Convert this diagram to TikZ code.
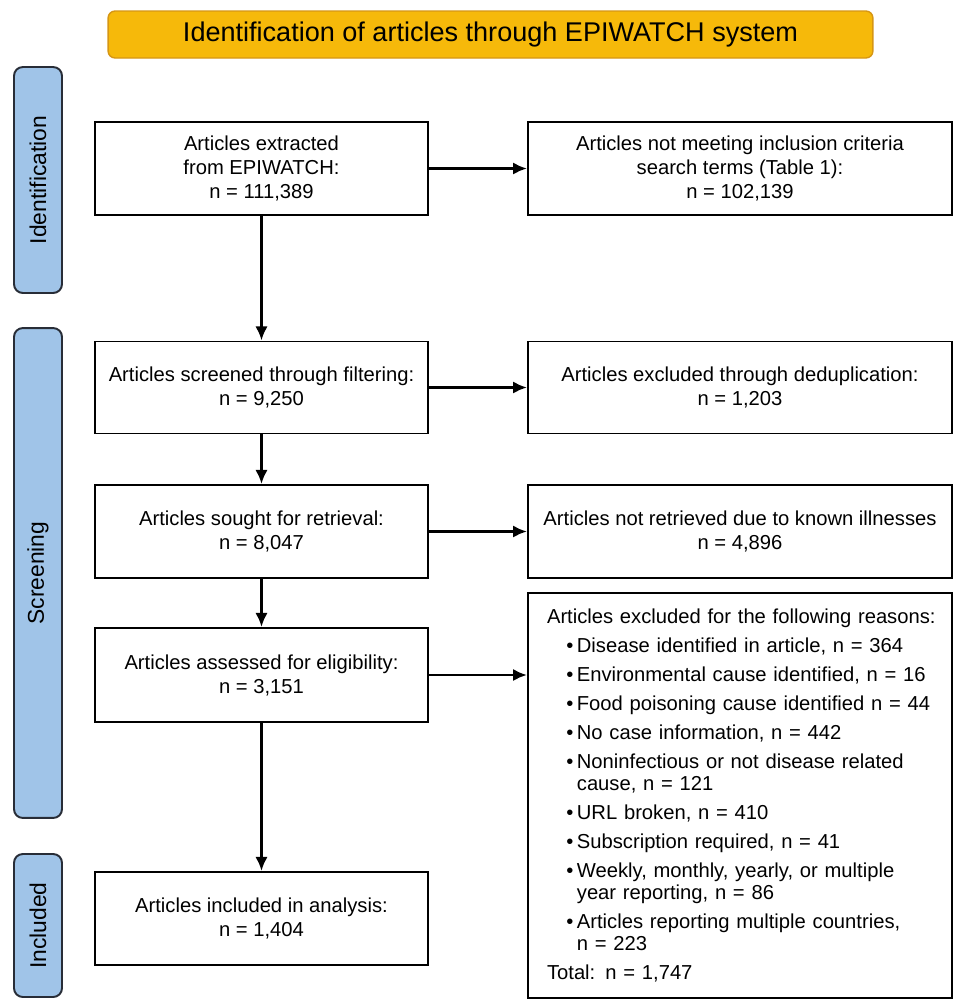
\documentclass[tikz,border=0pt]{standalone}
\usepackage{fontspec}
\setmainfont{Liberation Sans}
\usetikzlibrary{calc,arrows.meta}

\definecolor{headorange}{RGB}{246,185,10}
\definecolor{headedge}{RGB}{214,150,20}
\definecolor{stageblue}{RGB}{160,196,232}
\definecolor{stageedge}{RGB}{40,45,55}

\newcommand{\bul}{\hspace*{11pt}\makebox[6pt][l]{\textbullet}}
\newcommand{\cnt}{\hspace*{17pt}}

\begin{document}
\begin{tikzpicture}[x=0.02cm,y=-0.02cm,
	box/.style={draw,line width=1.1pt,fill=white,align=center,inner sep=0pt,font=\fontsize{11.5}{13.7}\selectfont},
	stage/.style={draw=stageedge,line width=1.1pt,fill=stageblue,rounded corners=5pt,rotate=90,inner sep=0pt,minimum height=0.96cm,font=\fontsize{13}{15}\selectfont},
	flow/.style={-{Latex[length=8pt,width=7pt]},line width=1.6pt}]
\useasboundingbox (0,0) rectangle (953,1002);

\node[draw=headedge,fill=headorange,line width=0.8pt,rounded corners=4pt,minimum width=15.3cm,minimum height=0.94cm,font=\fontsize{15.4}{18}\selectfont] (title) at (490.5,34.5) {Identification of articles through EPIWATCH system};

% stages
\node[stage,minimum width=4.52cm] (ident) at (38,180) {Identification};
\node[stage,minimum width=9.8cm] (screen) at (38,573) {Screening};
\node[stage,minimum width=2.86cm] (incl) at (38,925.5) {Included};

% main column
\node[box,minimum width=6.66cm,minimum height=1.86cm] (extracted) at (261.5,168.5) {Articles extracted\\from EPIWATCH:\\n = 111,389};
\node[box,minimum width=6.66cm,minimum height=1.84cm] (screened) at (261.5,387.5) {Articles screened through filtering:\\n = 9,250};
\node[box,minimum width=6.66cm,minimum height=1.86cm] (sought) at (261.5,531.5) {Articles sought for retrieval:\\n = 8,047};
\node[box,minimum width=6.66cm,minimum height=1.88cm] (assessed) at (261.5,675) {Articles assessed for eligibility:\\n = 3,151};
\node[box,minimum width=6.66cm,minimum height=1.86cm] (included) at (261.5,918.5) {Articles included in analysis:\\n = 1,404};

% exclusions
\node[box,minimum width=8.48cm,minimum height=1.86cm] (notmeeting) at (740,168.5) {Articles not meeting inclusion criteria\\search terms (Table 1):\\n = 102,139};
\node[box,minimum width=8.48cm,minimum height=1.84cm] (dedup) at (740,387.5) {Articles excluded through deduplication:\\n = 1,203};
\node[box,minimum width=8.48cm,minimum height=1.86cm] (notretrieved) at (740,531.5) {Articles not retrieved due to known illnesses\\n = 4,896};
\node[box,minimum width=8.48cm,minimum height=8.1cm,align=left,text width=7.72cm,inner xsep=0.38cm,font=\fontsize{11.5}{12.5}\selectfont] (excluded) at (740,795.5) {\mbox{Articles excluded for the following reasons:}\\[4pt]
\bul Disease identified in article, n = 364\\[4pt]
\bul Environmental cause identified, n = 16\\[4pt]
\bul Food poisoning cause identified n = 44\\[4pt]
\bul No case information, n = 442\\[4pt]
\bul Noninfectious or not disease related\\
\cnt cause, n = 121\\[4pt]
\bul URL broken, n = 410\\[4pt]
\bul Subscription required, n = 41\\[4pt]
\bul Weekly, monthly, yearly, or multiple\\
\cnt year reporting, n = 86\\[4pt]
\bul Articles reporting multiple countries,\\
\cnt n = 223\\[4pt]
Total: n = 1,747};

\draw[flow] (extracted.south) -- (screened.north);
\draw[flow] (screened.south) -- (sought.north);
\draw[flow] (sought.south) -- (assessed.north);
\draw[flow] (assessed.south) -- (included.north);
\draw[flow] (extracted.east) -- (notmeeting.west);
\draw[flow] (screened.east) -- (dedup.west);
\draw[flow] (sought.east) -- (notretrieved.west);
\draw[flow] (assessed.east) -- (assessed.east -| excluded.west);
\end{tikzpicture}
\end{document}
